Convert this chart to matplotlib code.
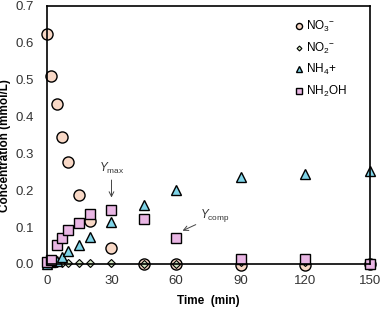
import matplotlib.pyplot as plt

plt.rcParams['font.family'] = ['Liberation Sans', 'DejaVu Sans']
plt.rcParams['mathtext.fontset'] = 'custom'
plt.rcParams['mathtext.rm'] = 'Liberation Sans'
plt.rcParams['mathtext.it'] = 'Liberation Sans:italic'

# 时间 (min)
t_early = [0, 2, 4.5, 7, 10, 15, 20, 30, 45, 60, 90, 120, 150]
no3 = [0.623, 0.51, 0.434, 0.345, 0.277, 0.186, 0.116, 0.044, 0.0, 0.0, -0.004, -0.004, 0.0]
no2 = [0.0, 0.001, 0.002, 0.002, 0.002, 0.002, 0.002, 0.002, 0.0, 0.0, 0.004, 0.004, 0.0]
nh4 = [0.0, 0.004, 0.009, 0.018, 0.035, 0.052, 0.073, 0.114, 0.159, 0.200, 0.236, 0.245, 0.252]
nh2oh = [0.004, 0.01, 0.052, 0.071, 0.091, 0.112, 0.136, 0.145, 0.121, 0.071, 0.014, 0.012, 0.0]

fig = plt.figure(figsize=(3.81, 3.09), dpi=100)
ax = fig.add_axes([0.123, 0.146, 0.848, 0.835])

kw = dict(linestyle='none', markeredgecolor='black', clip_on=False)
ax.plot(t_early, no3, marker='o', markersize=8, markerfacecolor='#f8d8c6', markeredgewidth=1.0, label='NO$_3$$^{-}$', **kw)
ax.plot(t_early, no2, marker='D', markersize=4.5, markerfacecolor='#d3e6c2', markeredgewidth=0.8, label='NO$_2$$^{-}$', **kw)
ax.plot(t_early, nh4, marker='^', markersize=7.5, markerfacecolor='#7fd4e8', markeredgewidth=1.0, label='NH$_4$+', **kw)
ax.plot(t_early, nh2oh, marker='s', markersize=7.5, markerfacecolor='#e9b6e4', markeredgewidth=1.0, label='NH$_2$OH', **kw)

ax.set_xlim(0, 150)
ax.set_ylim(0, 0.7)
ax.set_xticks([0, 30, 60, 90, 120, 150])
ax.set_yticks([0.0, 0.1, 0.2, 0.3, 0.4, 0.5, 0.6, 0.7])
ax.set_yticklabels(['%.1f' % v for v in ax.get_yticks()])
ax.tick_params(length=0, labelsize=9.5, colors='#333333')
ax.tick_params(axis='y', pad=9)
ax.tick_params(axis='x', pad=8)
for s in ax.spines.values():
    s.set_linewidth(1.2)

ax.set_xlabel('Time  (min)', fontsize=8.5, fontweight='bold', labelpad=6)
ax.set_ylabel('Concentration (mmol/L)', fontsize=8.5, fontweight='bold')
ax.yaxis.set_label_coords(-0.112, 0.46)

ax.annotate('$Y_{\\mathrm{max}}$', xy=(30, 0.18), xytext=(30, 0.25), ha='center', fontsize=8.5,
            color='#333333',
            arrowprops=dict(arrowstyle='->', color='#444444', lw=0.7, shrinkA=1, shrinkB=0))
ax.annotate('$Y_{\\mathrm{comp}}$', xy=(63, 0.09), xytext=(71, 0.13), ha='left', va='center', fontsize=8.5,
            color='#333333',
            arrowprops=dict(arrowstyle='->', color='#444444', lw=0.7, shrinkA=1, shrinkB=0))

leg = ax.legend(loc='upper right', frameon=False, fontsize=8.5, markerscale=0.55,
                handlelength=0.6, handletextpad=0.3, labelspacing=0.55,
                bbox_to_anchor=(0.96, 0.99))

fig.savefig('out.png', dpi=100)
